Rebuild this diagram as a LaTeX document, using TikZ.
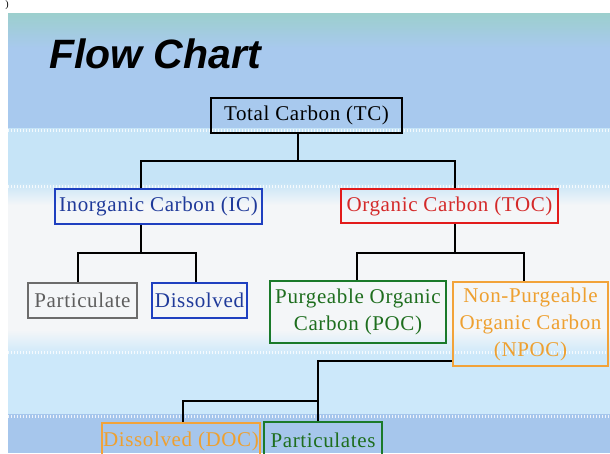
\documentclass[tikz,border=0pt]{standalone}
\usepackage{fontspec}
\setmainfont{Liberation Serif}[LetterSpace=3]
\newfontfamily\titlefont{Liberation Sans}
\begin{document}
\begin{tikzpicture}[x=1pt,y=-1pt,
  box/.style={draw, rectangle, line width=2pt, inner sep=0pt, align=center,
    font=\fontsize{21}{27}\selectfont},
  conn/.style={draw=black, line width=2.4pt},
  dotrow/.style={draw=white, line width=3pt, dash pattern=on 1.2pt off 1.8pt, opacity=0.8}]
\definecolor{bluebd}{HTML}{1F40C0}
\definecolor{bluetx}{HTML}{1F3A9A}
\definecolor{redbd}{HTML}{E21B1B}
\definecolor{redtx}{HTML}{D42A2A}
\definecolor{grnbd}{HTML}{1A7A2A}
\definecolor{grntx}{HTML}{1E6E1E}
\definecolor{orgbd}{HTML}{F2A33A}
\definecolor{orgtx}{HTML}{EEA030}
\definecolor{graybd}{HTML}{6C6C6C}
\definecolor{graytx}{HTML}{5E5E5E}
\definecolor{teal1}{HTML}{9CCFCD}
\definecolor{sky1}{HTML}{A8C9EE}
\definecolor{sky2}{HTML}{C6E4F7}
\definecolor{pale}{HTML}{F4F6F8}
\definecolor{sky3}{HTML}{CCE8FA}
\definecolor{sky4}{HTML}{A6C6EC}
\useasboundingbox (0,0) rectangle (610,453);
\fill[white] (0,0) rectangle (610,453);
% background of slide
\shade[top color=teal1, bottom color=sky1] (8,13) rectangle (610,48);
\fill[sky1] (8,48) rectangle (610,128);
\fill[sky2] (8,128) rectangle (610,182);
\shade[top color=sky2, bottom color=pale] (8,182) rectangle (610,205);
\fill[pale] (8,205) rectangle (610,330);
\shade[top color=pale, bottom color=sky3] (8,330) rectangle (610,355);
\fill[sky3] (8,355) rectangle (610,414);
\fill[sky4] (8,414) rectangle (610,453);
\draw[dotrow] (8,130) -- (610,130);
\draw[dotrow] (8,186) -- (610,186);
\draw[dotrow] (8,352) -- (610,352);
\draw[dotrow] (8,416) -- (610,416);
% stray mark
\node[font=\fontsize{10}{10}\selectfont, anchor=north, inner sep=0pt] (mark) at (7,0.5) {)};
% title
\node[anchor=base west, inner sep=0pt, font=\titlefont\bfseries\itshape\fontsize{41}{41}\selectfont] (title) at (49,68) {Flow Chart};
% nodes
\node[box, minimum width=191pt, minimum height=35pt] (TC) at (306.5,115.5) {Total Carbon (TC)};
\node[box, draw=bluebd, text=bluetx, minimum width=207pt, minimum height=35pt] (IC) at (158.5,206.5) {Inorganic Carbon (IC)};
\node[box, draw=redbd, text=redtx, minimum width=217pt, minimum height=34pt] (TOC) at (449.5,206) {Organic Carbon (TOC)};
\node[box, draw=graybd, text=graytx, minimum width=109pt, minimum height=35pt] (PART) at (82.5,300.5) {Particulate};
\node[box, draw=bluebd, text=bluetx, minimum width=95pt, minimum height=35pt] (DIS) at (199.5,300.5) {Dissolved};
\node[box, draw=grnbd, text=grntx, minimum width=176pt, minimum height=62pt] (POC) at (358,312) {Purgeable Organic\\Carbon (POC)};
\node[box, draw=orgbd, text=orgtx, minimum width=155pt, minimum height=84pt] (NPOC) at (530.5,324) {Non-Purgeable\\Organic Carbon\\(NPOC)};
\node[box, draw=orgbd, text=orgtx, minimum width=158pt, minimum height=36pt] (DOC) at (181,441) {Dissolved (DOC)};
\node[box, draw=grnbd, text=grntx, minimum width=118pt, minimum height=37pt] (PARTS) at (323,440.5) {Particulates};
% junction coordinates
\coordinate (jTC) at (298,161);
\coordinate (xIC) at (141,161);
\coordinate (xTOC) at (455,161);
\coordinate (jIC) at (141,253);
\coordinate (xPART) at (78,253);
\coordinate (xDIS) at (196,253);
\coordinate (jTOC) at (455,253);
\coordinate (xPOC) at (357,253);
\coordinate (xNPOC) at (524,253);
\coordinate (jN) at (318,361);
\coordinate (jN2) at (318,401);
\coordinate (xDOC) at (183,401);
% connectors
\draw[conn] (TC.south -| jTC) -- (jTC);
\draw[conn] (IC.north -| xIC) -- (xIC) -- (xTOC) -- (TOC.north -| xTOC);
\draw[conn] (IC.south -| jIC) -- (jIC);
\draw[conn] (PART.north -| xPART) -- (xPART) -- (xDIS) -- (DIS.north -| xDIS);
\draw[conn] (TOC.south -| jTOC) -- (jTOC);
\draw[conn] (POC.north -| xPOC) -- (xPOC) -- (xNPOC) -- (NPOC.north -| xNPOC);
\draw[conn] (NPOC.west |- jN) -- (jN) -- (PARTS.north -| jN);
\draw[conn] (jN2) -- (xDOC) -- (DOC.north -| xDOC);
\end{tikzpicture}
\end{document}
